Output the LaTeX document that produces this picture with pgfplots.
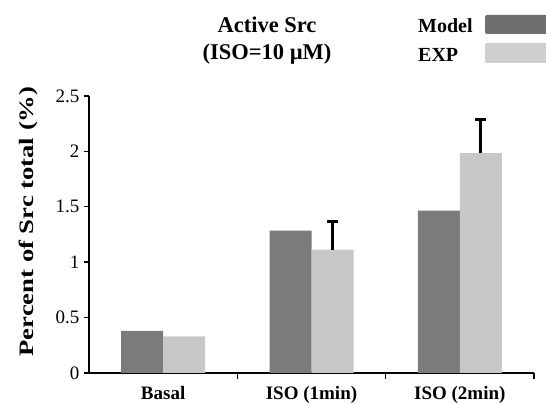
\documentclass[border=0pt]{standalone}
\usepackage{pgfplots}
\pgfplotsset{compat=1.18}
\usepackage{fontspec}
\setmainfont{Liberation Serif}
\newfontfamily\ylabfont[FakeStretch=1.3]{Liberation Serif}
\definecolor{modelc}{HTML}{7B7B7B}
\definecolor{expc}{HTML}{C6C7C6}
\begin{document}
\begin{tikzpicture}
\useasboundingbox (0,0) rectangle (546pt,404pt);
\begin{axis}[
  at={(89pt,31pt)}, anchor=south west,
  scale only axis, width=445pt, height=277pt,
  xmin=0, xmax=3, ymin=0, ymax=2.5,
  axis x line*=bottom, axis y line*=left,
  axis line style={line width=1.4pt, -},
  xtick={0.5,1.5,2.5},
  xticklabels={Basal, ISO (1min), ISO (2min)},
  major x tick style={draw=none},
  minor xtick={1,2,3},
  minor x tick style={line width=1.4pt, black},
  ytick={0,0.5,1,1.5,2,2.5},
  yticklabels={0,0.5,1,1.5,2,2.5},
  y tick style={line width=1.4pt, black},
  tick align=outside,
  major tick length=5pt, minor tick length=6pt,
  x tick label style={font=\fontsize{19}{22}\selectfont\bfseries, anchor=base, yshift=-22pt},
  y tick label style={font=\fontsize{19}{22}\selectfont, xshift=-1pt},
  ylabel={Percent of Src total (\%)},
  ylabel style={font=\ylabfont\fontsize{20.5}{24}\selectfont\bfseries, at={(rel axis cs:-0.135,0.547)}, anchor=center},
  ybar, bar width=42pt,
  clip=false,
]
\addplot[fill=modelc, draw=none, bar shift=-21pt] coordinates {(0.5,0.38) (1.5,1.285) (2.5,1.465)};
\addplot[fill=expc, draw=none, bar shift=21pt,
  error bars/.cd, y dir=plus, y explicit,
  error bar style={line width=2.8pt, black},
  error mark options={rotate=90, mark size=5.5pt, line width=2.8pt, black}]
  coordinates {(0.5,0.33) (1.5,1.113) +- (0,0.253) (2.5,1.985) +- (0,0.305)};
\end{axis}
\node[font=\fontsize{22.5}{27}\selectfont\bfseries, anchor=base] at (267pt,371pt) {Active Src};
\node[font=\fontsize{22.5}{27}\selectfont\bfseries, anchor=base] at (267pt,344pt) {(ISO=10 µM)};
\node[font=\fontsize{20}{22}\selectfont\bfseries, anchor=base west, inner sep=0pt] at (418pt,371pt) {Model};
\node[font=\fontsize{20}{22}\selectfont\bfseries, anchor=base west, inner sep=0pt] at (418pt,342pt) {EXP};
\fill[modelc!90!black, rounded corners=2pt] (485pt,370pt) rectangle (550pt,389pt);
\fill[expc!85!white, rounded corners=2pt] (485pt,341pt) rectangle (550pt,361pt);
\end{tikzpicture}
\end{document}
